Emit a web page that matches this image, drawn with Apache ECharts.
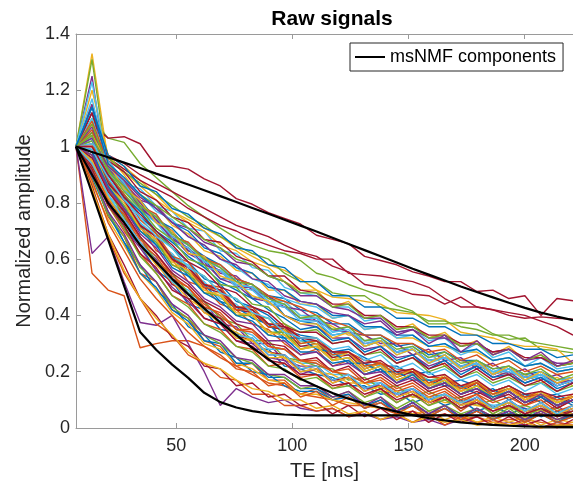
<!DOCTYPE html>
<html><head><meta charset="utf-8">
<script src="https://cdn.jsdelivr.net/npm/echarts@6/dist/echarts.min.js"></script>
<style>html,body{margin:0;padding:0;background:#fff}#c{width:573px;height:488px}</style>
</head><body><div id="c"></div>
<script>
const te = [6.9,13.8,20.7,27.6,34.5,41.4,48.3,55.2,62.1,69,75.9,82.8,89.7,96.6,103.5,110.4,117.3,124.2,131.1,138,144.9,151.8,158.7,165.6,172.5,179.4,186.3,193.2,200.1,207,213.9,220.8];
const xTicks = [50,100,150,200];

const s00=[1,1.12,.90,.83,.75,.70,.64,.59,.53,.51,.45,.43,.40,.35,.33,.32,.27,.28,.25,.22,.22,.19,.20,.16,.17,.15,.13,.15,.12,.11,.12,.09];
const s01=[1,.91,.75,.68,.55,.52,.42,.39,.31,.29,.22,.23,.17,.17,.12,.14,.10,.12,.07,.10,.06,.08,.05,.07,.04,.06,.03,.06,.02,.05,.03,.04];
const s02=[1,1.33,.95,.88,.80,.75,.70,.63,.61,.57,.52,.50,.46,.45,.40,.39,.36,.33,.33,.29,.30,.26,.27,.22,.24,.22,.20,.19,.19,.16,.18,.15];
const s03=[1,1.25,.86,.76,.68,.58,.55,.46,.45,.37,.36,.30,.30,.24,.22,.22,.17,.18,.14,.16,.12,.14,.10,.12,.08,.11,.07,.09,.07,.05,.08,.04];
const s04=[1,1.10,1.03,1.015,.94,.89,.84,.79,.75,.71,.675,.65,.63,.62,.595,.55,.535,.51,.49,.47,.435,.415,.37,.37,.375,.37,.335,.315,.32,.28,.275,.267];
const s05=[1,1.06,.94,.87,.85,.79,.77,.71,.70,.63,.62,.57,.56,.50,.48,.47,.43,.43,.38,.39,.34,.35,.31,.32,.27,.30,.25,.27,.22,.25,.21,.22];
const s06=[1,1.08,1.03,1.035,1.01,.93,.93,.92,.885,.86,.815,.795,.765,.745,.725,.685,.67,.655,.61,.595,.58,.555,.54,.52,.52,.485,.49,.46,.47,.40,.46,.452];
const s07=[1,1.02,.91,.85,.78,.73,.68,.63,.60,.53,.53,.46,.47,.40,.38,.37,.33,.34,.29,.31,.27,.28,.23,.26,.21,.23,.19,.21,.17,.19,.15,.17];
const s08=[1,.55,.49,.47,.285,.30,.31,.31,.29,.25,.22,.19,.16,.15,.12,.11,.10,.08,.08,.07,.05,.06,.04,.05,.03,.04,.02,.03,.03,.02,.01,.02];
const s09=[1,1.15,.97,.93,.88,.83,.77,.74,.71,.68,.64,.61,.58,.56,.53,.49,.465,.46,.45,.44,.41,.405,.40,.385,.34,.33,.32,.30,.29,.29,.28,.23];
const s10=[1,.62,.68,.52,.375,.365,.40,.30,.20,.08,.14,.11,.09,.10,.07,.06,.07,.04,.05,.03,.04,.02,.03,.01,.03,.02,.01,.02,.01,0,.02,.01];
const s11=[1,1.31,.91,.83,.77,.69,.64,.57,.54,.48,.46,.40,.39,.33,.30,.31,.25,.27,.21,.23,.18,.21,.16,.18,.14,.17,.12,.14,.11,.13,.09,.11];
const s12=[1,.97,.87,.79,.73,.66,.62,.55,.52,.46,.44,.39,.37,.31,.29,.29,.24,.25,.20,.22,.17,.19,.15,.17,.12,.15,.11,.13,.09,.12,.08,.10];
const s13=[1,1.05,.97,.94,.90,.87,.84,.81,.78,.75,.72,.70,.68,.65,.625,.61,.575,.555,.51,.50,.495,.475,.47,.44,.465,.43,.42,.40,.39,.395,.39,.387];
const s14=[1,1.04,.92,.86,.81,.74,.71,.65,.61,.58,.53,.51,.47,.46,.42,.41,.37,.37,.33,.33,.29,.30,.26,.27,.24,.24,.21,.22,.19,.20,.17,.18];
const s15=[1,.84,.68,.55,.46,.37,.33,.26,.23,.18,.17,.12,.12,.08,.08,.06,.07,.04,.06,.03,.05,.02,.05,.01,.04,.02,.03,.01,.03,0,.02,.01];
const s16=[1,1.08,.96,.91,.86,.81,.77,.73,.70,.65,.63,.59,.57,.52,.49,.49,.43,.45,.39,.40,.35,.37,.32,.34,.29,.31,.26,.29,.24,.26,.22,.23];
const s17=[1,.93,.82,.75,.65,.60,.52,.48,.42,.39,.33,.32,.26,.26,.20,.21,.17,.18,.14,.15,.12,.14,.09,.12,.08,.10,.07,.09,.05,.08,.04,.07];
const s18=[1,1.02,.88,.81,.72,.68,.61,.57,.51,.49,.43,.42,.36,.35,.31,.30,.26,.27,.22,.23,.19,.20,.17,.18,.14,.16,.12,.14,.11,.12,.09,.11];
const s19=[1,1.10,.93,.87,.78,.76,.68,.66,.59,.58,.52,.51,.45,.45,.40,.40,.34,.36,.31,.32,.27,.29,.25,.26,.22,.24,.20,.22,.18,.20,.16,.18];
const s20=[1,1.12,.96,.92,.88,.85,.82,.78,.75,.72,.70,.67,.65,.63,.62,.60,.60,.55,.545,.54,.53,.52,.50,.46,.43,.43,.42,.41,.40,.38,.36,.33];
const s21=[1,.90,.77,.66,.58,.49,.44,.36,.33,.27,.25,.20,.19,.15,.13,.13,.10,.11,.07,.09,.06,.08,.04,.07,.04,.06,.03,.05,.02,.05,.02,.04];
const s22=[1,.95,.85,.77,.72,.63,.60,.52,.50,.44,.42,.37,.35,.30,.26,.28,.22,.24,.19,.21,.16,.19,.14,.16,.12,.14,.10,.13,.09,.11,.07,.10];
const s23=[1,1.20,.97,.90,.82,.79,.72,.69,.63,.61,.56,.55,.49,.49,.44,.44,.39,.40,.35,.36,.32,.32,.29,.29,.27,.27,.24,.25,.22,.23,.20,.21];
const s24=[1,1.00,.91,.87,.81,.79,.73,.71,.66,.64,.59,.58,.54,.52,.47,.47,.43,.42,.39,.39,.34,.35,.32,.32,.29,.30,.27,.28,.24,.25,.23,.23];
const s25=[1,1.05,.96,.91,.87,.83,.79,.75,.72,.68,.65,.62,.60,.55,.52,.52,.48,.47,.47,.43,.42,.41,.38,.38,.36,.35,.33,.33,.31,.30,.29,.28];
const s26=[1,1.03,.88,.82,.73,.68,.61,.58,.51,.49,.43,.42,.36,.36,.31,.31,.26,.26,.23,.22,.20,.19,.17,.17,.14,.16,.12,.14,.11,.12,.10,.11];
const s27=[1,1.12,.95,.91,.84,.81,.75,.73,.67,.66,.61,.59,.54,.54,.49,.48,.44,.44,.40,.40,.36,.36,.33,.33,.30,.30,.27,.28,.25,.25,.22,.23];
const s28=[1,.91,.80,.71,.65,.56,.52,.44,.42,.35,.34,.28,.28,.22,.21,.19,.18,.15,.15,.12,.13,.09,.11,.08,.10,.06,.08,.05,.07,.04,.06,.04];
const s29=[1,1.06,.90,.83,.74,.69,.61,.59,.51,.50,.43,.43,.37,.37,.32,.32,.27,.27,.24,.23,.21,.20,.18,.18,.15,.16,.13,.15,.11,.13,.10,.11];
const s30=[1,.87,.74,.65,.55,.49,.41,.37,.30,.28,.23,.21,.17,.16,.12,.12,.10,.09,.08,.07,.07,.05,.06,.03,.05,.02,.04,.02,.04,.01,.03,.02];
const s31=[1,1.15,.93,.86,.80,.74,.70,.63,.61,.55,.54,.49,.47,.43,.42,.38,.37,.34,.33,.30,.30,.26,.28,.24,.25,.21,.23,.19,.21,.17,.19,.16];
const s32=[1,1.04,.93,.88,.83,.79,.75,.71,.67,.64,.60,.58,.54,.52,.48,.48,.43,.44,.39,.40,.35,.36,.32,.33,.29,.30,.26,.28,.24,.26,.22,.23];
const s33=[1,.94,.83,.76,.65,.61,.52,.49,.43,.40,.35,.33,.28,.28,.23,.23,.19,.19,.16,.16,.13,.14,.11,.12,.09,.10,.08,.09,.06,.08,.05,.07];
const s34=[1,1.00,.87,.81,.71,.67,.60,.56,.50,.48,.42,.41,.36,.35,.29,.30,.25,.26,.21,.23,.18,.20,.15,.18,.13,.16,.11,.14,.10,.12,.08,.11];
const s35=[1,.89,.76,.66,.55,.50,.42,.38,.31,.30,.23,.23,.18,.18,.14,.14,.11,.12,.08,.10,.06,.09,.05,.08,.04,.07,.03,.06,.03,.05,.02,.05];
const s36=[1,1.09,.94,.88,.79,.76,.68,.66,.60,.58,.53,.51,.47,.45,.43,.40,.38,.36,.33,.33,.30,.30,.27,.28,.24,.26,.22,.24,.20,.22,.19,.20];
const s37=[1,.98,.86,.81,.70,.67,.58,.56,.48,.48,.40,.41,.33,.35,.28,.30,.24,.27,.21,.23,.18,.21,.15,.19,.13,.17,.12,.15,.10,.13,.09,.12];
const s38=[1,1.03,.92,.85,.79,.73,.68,.62,.59,.53,.51,.46,.45,.40,.37,.36,.32,.32,.28,.29,.25,.26,.22,.24,.20,.22,.18,.20,.16,.18,.15,.17];
const s39=[1,.95,.85,.75,.68,.59,.55,.48,.45,.39,.37,.31,.31,.25,.24,.22,.21,.17,.18,.14,.15,.11,.13,.10,.11,.08,.10,.07,.08,.06,.07,.05];
const s40=[1,1.23,.92,.86,.77,.74,.67,.64,.58,.56,.51,.50,.44,.44,.39,.39,.35,.34,.31,.31,.27,.28,.24,.25,.22,.23,.20,.20,.18,.18,.16,.17];
const s41=[1,.86,.69,.58,.46,.40,.32,.29,.22,.21,.15,.16,.11,.12,.08,.09,.05,.08,.04,.07,.03,.06,.02,.05,.02,.04,.01,.04,.01,.03,0,.03];
const s42=[1,.99,.88,.78,.72,.65,.61,.54,.51,.45,.43,.39,.37,.32,.32,.28,.27,.23,.23,.20,.20,.17,.17,.15,.15,.12,.14,.10,.12,.09,.11,.08];
const s43=[1,.97,.84,.77,.67,.62,.54,.50,.43,.41,.35,.34,.29,.28,.24,.23,.20,.19,.16,.17,.13,.15,.11,.13,.09,.12,.07,.10,.06,.09,.05,.08];
const s44=[1,.85,.69,.56,.46,.39,.33,.27,.23,.21,.17,.14,.13,.10,.10,.07,.08,.05,.06,.03,.05,.02,.04,.02,.03,.01,.02,.01,.02,0,.01,.01];
const s45=[1,1.07,.92,.87,.78,.74,.67,.64,.58,.56,.50,.50,.44,.43,.39,.38,.35,.34,.30,.31,.27,.28,.24,.25,.22,.23,.19,.21,.18,.19,.16,.17];
const s46=[1,.90,.76,.68,.57,.52,.43,.39,.33,.30,.25,.23,.19,.18,.14,.15,.11,.13,.09,.11,.07,.10,.06,.08,.05,.07,.04,.07,.03,.06,.03,.05];
const s47=[1,1.17,.93,.87,.79,.75,.68,.65,.59,.57,.51,.50,.45,.44,.39,.39,.34,.35,.30,.31,.27,.28,.24,.25,.22,.23,.20,.21,.18,.19,.17,.18];
const s48=[1,.93,.81,.74,.65,.59,.51,.48,.41,.39,.33,.31,.27,.26,.21,.22,.17,.18,.14,.15,.11,.13,.09,.11,.07,.10,.06,.08,.05,.07,.05,.06];
const s49=[1,1.14,.97,.93,.86,.84,.78,.76,.71,.69,.64,.63,.58,.57,.52,.52,.47,.47,.43,.43,.39,.39,.36,.36,.33,.33,.30,.30,.28,.28,.25,.26];
const s50=[1,1.01,.88,.81,.72,.68,.60,.57,.50,.49,.42,.42,.36,.36,.30,.31,.26,.27,.22,.23,.19,.21,.16,.18,.14,.16,.12,.14,.11,.12,.10,.11];
const s51=[1,.92,.81,.73,.65,.58,.52,.46,.42,.37,.34,.31,.27,.25,.23,.20,.19,.16,.16,.13,.13,.11,.11,.09,.09,.08,.07,.07,.06,.06,.05,.05];
const s52=[1,.91,.77,.69,.58,.52,.44,.40,.33,.31,.25,.24,.19,.19,.15,.15,.11,.13,.08,.11,.06,.09,.05,.08,.04,.07,.04,.06,.03,.06,.03,.05];
const s53=[1,.97,.86,.79,.70,.66,.58,.55,.48,.47,.40,.40,.34,.34,.28,.29,.24,.25,.20,.22,.17,.19,.14,.17,.12,.15,.10,.13,.09,.12,.08,.10];
const s54=[1,1.03,.91,.85,.77,.73,.66,.64,.57,.56,.50,.49,.44,.43,.38,.38,.33,.34,.29,.31,.26,.28,.23,.25,.21,.23,.19,.21,.17,.19,.15,.17];
const s55=[1,.98,.87,.81,.72,.68,.60,.57,.51,.49,.43,.42,.37,.36,.32,.31,.27,.27,.23,.24,.20,.21,.18,.19,.15,.17,.13,.15,.12,.13,.11,.12];
const s56=[1,.96,.90,.82,.77,.70,.66,.61,.57,.52,.49,.46,.42,.39,.35,.36,.31,.32,.27,.29,.24,.26,.21,.24,.19,.22,.18,.19,.16,.18,.14,.16];
const s57=[1,.92,.79,.70,.62,.55,.47,.44,.37,.35,.29,.28,.22,.23,.18,.19,.14,.16,.11,.14,.09,.12,.08,.11,.06,.10,.05,.08,.05,.07,.04,.06];
const s58=[1,1.04,.94,.85,.81,.73,.70,.62,.61,.54,.52,.47,.45,.40,.37,.37,.32,.34,.29,.31,.26,.28,.23,.26,.21,.24,.19,.22,.17,.20,.16,.18];
const s59=[1,.90,.81,.71,.64,.56,.50,.45,.39,.37,.31,.30,.25,.24,.19,.21,.16,.18,.13,.16,.11,.14,.10,.12,.08,.11,.07,.10,.06,.08,.05,.07];
const s60=[1,1.08,.92,.84,.78,.71,.67,.60,.58,.51,.50,.44,.43,.37,.34,.35,.30,.31,.26,.27,.23,.25,.20,.22,.18,.20,.16,.18,.15,.16,.13,.15];
const s61=[1,1.01,.95,.88,.83,.77,.74,.68,.65,.60,.57,.53,.51,.46,.44,.43,.39,.40,.35,.36,.32,.33,.29,.30,.26,.28,.24,.25,.22,.23,.20,.21];
const s62=[1,.96,.84,.77,.68,.62,.55,.51,.45,.42,.37,.35,.30,.29,.24,.25,.20,.22,.17,.19,.15,.17,.13,.15,.11,.13,.10,.12,.08,.11,.07,.10];
const s63=[1,1.14,.94,.89,.83,.78,.73,.70,.64,.62,.57,.55,.50,.49,.45,.44,.40,.40,.36,.36,.33,.33,.29,.30,.27,.28,.24,.25,.22,.23,.20,.21];
const s64=[1,.88,.73,.63,.53,.46,.40,.34,.29,.26,.21,.20,.15,.16,.11,.13,.08,.11,.07,.09,.05,.08,.04,.07,.03,.06,.03,.05,.02,.05,.02,.04];
const s65=[1,1.00,.86,.80,.71,.67,.59,.56,.49,.47,.41,.40,.34,.33,.28,.29,.24,.25,.20,.22,.17,.19,.15,.17,.13,.15,.11,.14,.10,.12,.09,.11];
const s66=[1,1.03,.93,.88,.82,.78,.73,.68,.65,.60,.58,.53,.52,.47,.45,.44,.41,.40,.37,.38,.33,.35,.30,.33,.27,.31,.26,.28,.24,.27,.22,.24];
const s67=[1,.92,.79,.71,.61,.55,.47,.43,.37,.34,.29,.27,.22,.21,.17,.18,.14,.15,.11,.13,.09,.12,.08,.10,.07,.09,.05,.08,.04,.07,.04,.06];
const s68=[1,.99,.89,.81,.75,.68,.64,.57,.54,.48,.46,.41,.39,.34,.32,.32,.28,.29,.24,.26,.21,.23,.19,.21,.17,.19,.15,.17,.13,.16,.12,.14];
const s69=[1,.92,.79,.72,.62,.57,.49,.46,.39,.37,.31,.29,.24,.23,.19,.19,.15,.16,.12,.14,.10,.12,.09,.11,.07,.09,.06,.08,.05,.07,.04,.06];
const s70=[1,.98,.86,.78,.70,.65,.57,.54,.48,.45,.40,.38,.33,.32,.27,.27,.23,.24,.19,.21,.16,.19,.14,.16,.12,.14,.11,.13,.09,.11,.08,.10];
const s71=[1,.94,.81,.76,.66,.61,.53,.50,.44,.40,.35,.35,.29,.28,.24,.24,.20,.21,.16,.18,.14,.16,.12,.14,.10,.12,.09,.11,.08,.10,.06,.08];
const s72=[1,.95,.82,.74,.65,.59,.52,.48,.41,.38,.32,.31,.25,.25,.20,.21,.16,.18,.13,.15,.11,.13,.09,.12,.08,.10,.07,.09,.06,.08,.05,.07];
const s73=[1,.97,.85,.78,.69,.64,.56,.52,.46,.43,.38,.37,.31,.31,.26,.27,.22,.23,.19,.20,.16,.18,.14,.16,.12,.14,.10,.13,.09,.12,.08,.10];
const s74=[1,1.04,.91,.86,.79,.75,.69,.65,.60,.57,.52,.51,.46,.44,.39,.40,.35,.36,.31,.32,.28,.29,.25,.27,.23,.24,.21,.22,.19,.21,.17,.19];
const s75=[1,.94,.83,.74,.66,.59,.52,.48,.42,.38,.33,.32,.26,.26,.21,.22,.17,.19,.14,.16,.12,.14,.10,.12,.09,.11,.07,.10,.06,.09,.05,.08];
const s76=[1,1.00,.90,.82,.76,.70,.65,.59,.56,.50,.48,.43,.41,.36,.34,.34,.30,.31,.26,.28,.23,.25,.21,.23,.18,.21,.17,.19,.15,.17,.13,.16];

const signals=[s00,s01,s02,s03,s04,s05,s06,s07,s08,s09,s10,s11,s12,s13,s14,s15,s16,s17,s18,s19,s20,s21,s22,s23,s24,s25,s26,s27,s28,s29,s30,s31,s32,s33,s34,s35,s36,s37,s38,s39,s40,s41,s42,s43,s44,s45,s46,s47,s48,s49,s50,s51,s52,s53,s54,s55,s56,s57,s58,s59,s60,s61,s62,s63,s64,s65,s66,s67,s68,s69,s70,s71,s72,s73,s74,s75,s76];

const compA=[1,.981,.962,.943,.924,.904,.885,.865,.845,.824,.803,.782,.761,.740,.719,.698,.676,.654,.632,.610,.588,.566,.545,.524,.503,.483,.464,.445,.427,.410,.396,.383];
const compB=[1,.90,.80,.73,.65,.59,.53,.475,.425,.375,.33,.285,.245,.205,.175,.148,.124,.104,.087,.072,.058,.046,.035,.027,.02,.015,.011,.008,.006,.005,.004,.004];
const compC=[1,.835,.67,.505,.341,.278,.225,.178,.125,.092,.073,.06,.052,.048,.046,.045,.045,.045,.045,.045,.045,.045,.045,.045,.045,.045,.045,.045,.045,.045,.045,.045];
const components=[compA,compB,compC];

const palette=['#0072BD','#D95319','#EDB120','#7E2F8E','#77AC30','#4DBEEE','#A2142F'];
const FONT='"Liberation Sans", Arial, Helvetica, sans-serif';
const toPts=a=>te.map((t,i)=>[t,a[i]]).filter(p=>p[1]!==undefined);

const series=[];
signals.forEach((s,i)=>series.push({type:'line',name:'sig'+i,data:toPts(s),symbol:'none',silent:true,
  lineStyle:{width:1.4,color:palette[i%7]},itemStyle:{color:palette[i%7]},emphasis:{disabled:true},animation:false}));
components.forEach(c=>series.push({type:'line',name:'msNMF components',data:toPts(c),symbol:'none',silent:true,
  lineStyle:{width:2.2,color:'#000'},itemStyle:{color:'#000'},emphasis:{disabled:true},animation:false}));

const axisCol='#9a9a9a', txtCol='#262626';
const chart=echarts.init(document.getElementById('c'),null,{renderer:'canvas'});
chart.setOption({
  animation:false,
  backgroundColor:'#fff',
  title:{text:'Raw signals',left:327,textAlign:'center',top:4,textStyle:{fontFamily:FONT,fontSize:21,fontWeight:'bold',color:'#000'}},
  legend:{data:['msNMF components'],left:350,top:43,icon:'rect',itemWidth:30,itemHeight:2,itemGap:6,padding:[5,7,5,5],
    borderColor:'#262626',borderWidth:1,backgroundColor:'#fff',textStyle:{fontFamily:FONT,fontSize:18,color:'#000'}},
  grid:{left:76,right:-2,top:34,bottom:60,containLabel:false},
  xAxis:[{type:'value',min:6.9,max:220.8,position:'bottom',
    axisLine:{show:true,onZero:false,lineStyle:{color:axisCol,width:1}},
    axisTick:{show:true,inside:true,length:5,customValues:xTicks,lineStyle:{color:axisCol}},
    axisLabel:{show:true,customValues:xTicks,color:txtCol,fontFamily:FONT,fontSize:18,margin:9},
    splitLine:{show:false},
    name:'TE [ms]',nameLocation:'middle',nameGap:33,nameTextStyle:{fontFamily:FONT,fontSize:20,color:txtCol}},
   {type:'value',min:6.9,max:220.8,position:'top',
    axisLine:{show:true,onZero:false,lineStyle:{color:axisCol,width:1}},
    axisTick:{show:true,inside:true,length:5,customValues:xTicks,lineStyle:{color:axisCol}},
    axisLabel:{show:false},splitLine:{show:false}}],
  yAxis:[{type:'value',min:0,max:1.4,interval:0.2,
    axisLine:{show:true,onZero:false,lineStyle:{color:axisCol,width:1}},
    axisTick:{show:true,inside:true,length:5,lineStyle:{color:axisCol}},
    axisLabel:{color:txtCol,fontFamily:FONT,fontSize:18,margin:6,formatter:v=>String(Math.round(v*10)/10)},
    splitLine:{show:false},
    name:'Normalized amplitude',nameLocation:'middle',nameGap:42,nameRotate:90,
    nameTextStyle:{fontFamily:FONT,fontSize:20,color:txtCol}}],
  series:series
});
</script></body></html>
